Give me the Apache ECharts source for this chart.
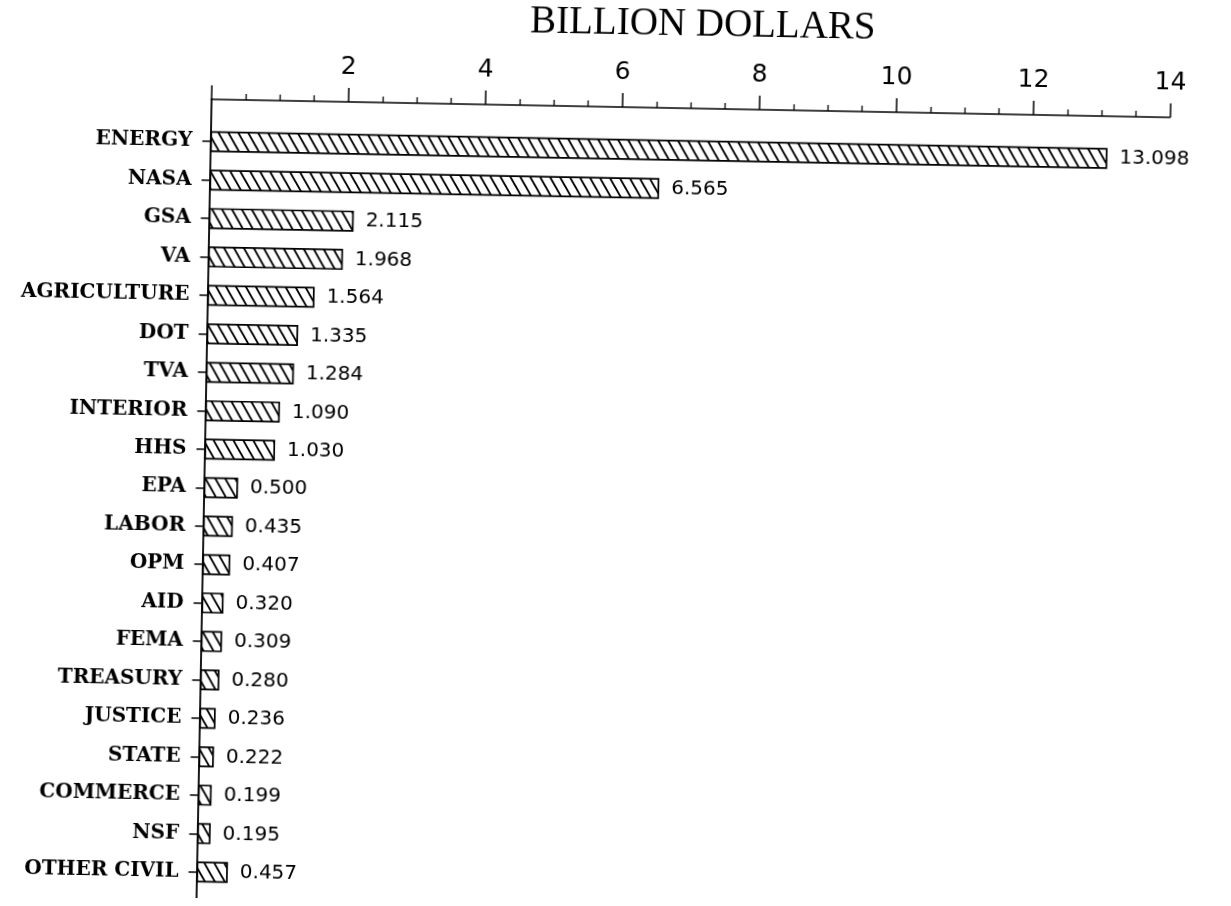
<!DOCTYPE html>
<html><head><meta charset="utf-8">
<script src="https://cdn.jsdelivr.net/npm/echarts/dist/echarts.min.js"></script>
<style>
html,body{margin:0;padding:0;background:#fff;overflow:hidden;width:1231px;height:906px}
#chart{width:1231px;height:906px;transform:rotate(1.08deg);transform-origin:615px 453px;}
</style>
</head><body><div id="chart"></div>
<script>
const titleText = 'BILLION DOLLARS';
const categories = ['ENERGY','NASA','GSA','VA','AGRICULTURE','DOT','TVA','INTERIOR','HHS','EPA','LABOR','OPM','AID','FEMA','TREASURY','JUSTICE','STATE','COMMERCE','NSF','OTHER CIVIL'];
const values = [13.098,6.565,2.115,1.968,1.564,1.335,1.284,1.090,1.030,0.500,0.435,0.407,0.320,0.309,0.280,0.236,0.222,0.199,0.195,0.457];
const xMin = 0, xMax = 14, xStep = 2;

function hatch(){
  const w = 10, h = 17;
  const c = document.createElement('canvas'); c.width = w; c.height = h;
  const g = c.getContext('2d');
  g.fillStyle = '#fff'; g.fillRect(0,0,w,h);
  g.strokeStyle = '#000'; g.lineWidth = 1.9;
  g.beginPath();
  for (let k=-1;k<=1;k++){ g.moveTo(k*w - w*0.25, -h*0.25); g.lineTo(k*w + w*1.25, h*1.25); }
  g.stroke();
  return c;
}

const chart = echarts.init(document.getElementById('chart'), null, {renderer:'canvas'});
chart.setOption({
  animation:false,
  backgroundColor:'#fff',
  title:{text:titleText, left:522, top:4, padding:0,
    textStyle:{fontFamily:'Liberation Serif', fontWeight:'normal', fontSize:39, color:'#000'}},
  grid:[
    {left:204.5, right:67.5, top:130, bottom:7, containLabel:false},
    {left:204.5, width:1, top:107, height:806}
  ],
  xAxis:[
    {type:'value', position:'top', min:xMin, max:xMax, interval:xStep, offset:23,
     axisLine:{show:true, lineStyle:{color:'#000', width:1.5}},
     axisTick:{show:true, length:14, lineStyle:{color:'#000', width:1.5}},
     minorTick:{show:true, splitNumber:4, length:6, lineStyle:{color:'#000', width:1.3}},
     axisLabel:{margin:22, color:'#000', fontFamily:'DejaVu Sans', fontSize:25,
       formatter:v=> v===0 ? '' : String(v)},
     splitLine:{show:false}, minorSplitLine:{show:false}},
    {gridIndex:1, type:'value', show:false, min:0, max:1}
  ],
  yAxis:[
    {type:'category', data:categories, inverse:true,
     axisLine:{show:false},
     axisTick:{show:true, alignWithLabel:true, length:8, lineStyle:{color:'#000', width:1.5}},
     axisLabel:{margin:18, color:'#000', fontFamily:'DejaVu Serif', fontWeight:'bold', fontSize:20},
     splitLine:{show:false}},
    {gridIndex:1, type:'value', min:0, max:1,
     axisLine:{show:true, onZero:false, lineStyle:{color:'#000', width:1.8}},
     axisTick:{show:false}, axisLabel:{show:false}, splitLine:{show:false}}
  ],
  series:[{
    type:'bar', data:values, barWidth:21,
    itemStyle:{color:{image:hatch(), repeat:'repeat'}, borderColor:'#000', borderWidth:1.7},
    label:{show:true, position:'right', distance:12, color:'#000',
      fontFamily:'DejaVu Sans', fontSize:20,
      formatter:p=> values[p.dataIndex].toFixed(3)}
  }]
});
</script>
</body></html>
